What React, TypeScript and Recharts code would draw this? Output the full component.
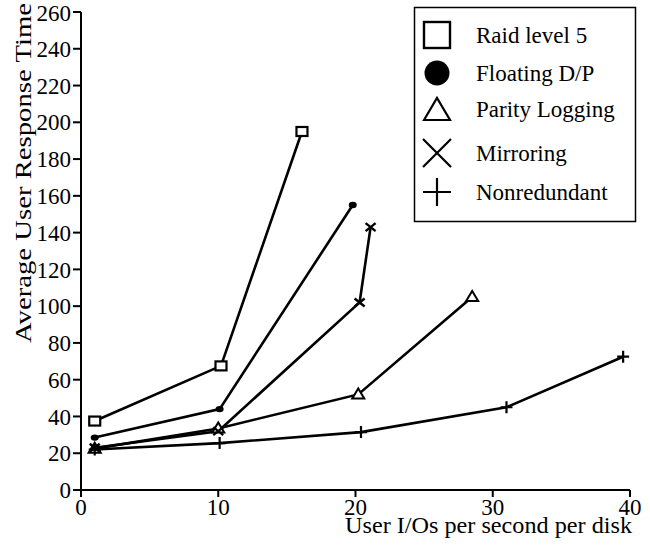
import React from 'react';
import { LineChart, Line, XAxis, YAxis } from 'recharts';

const raid5X = [1, 10.2, 16.1];
const raid5Y = [37.5, 67.5, 195];
const floatX = [1, 10.1, 19.8];
const floatY = [28.5, 44, 155];
const parityX = [1, 10, 20.2, 28.5];
const parityY = [22.5, 33.5, 52, 105];
const mirrorX = [1, 10, 20.3, 21.1];
const mirrorY = [23, 32, 102, 143];
const nonredX = [1, 10.1, 20.4, 31, 39.5];
const nonredY = [22, 25.5, 31.5, 45, 72.5];

const xTicks = [0, 10, 20, 30, 40];
const yTicks = [0, 20, 40, 60, 80, 100, 120, 140, 160, 180, 200, 220, 240, 260];

const seriesNames = ['Raid level 5', 'Floating D/P', 'Parity Logging', 'Mirroring', 'Nonredundant'];
const xLabel = 'User I/Os per second per disk';
const yLabel = 'Average User Response Time';

const zip = (xs: number[], ys: number[]) => xs.map((x, i) => ({ x, y: ys[i] }));

const FONT = '"Liberation Serif", "Times New Roman", serif';

type Kind = 'square' | 'circle' | 'triangle' | 'cross' | 'plus';

const marker = (kind: Kind) => (props: any) => {
  const { cx, cy, index } = props;
  const k = `m-${kind}-${index}`;
  if (cx == null || cy == null) return <g key={k} />;
  switch (kind) {
    case 'square':
      return <rect key={k} x={cx - 5.5} y={cy - 4.5} width={11} height={9} fill="#fff" stroke="#000" strokeWidth={2.2} />;
    case 'circle':
      return <ellipse key={k} cx={cx} cy={cy} rx={4} ry={3.2} fill="#000" />;
    case 'triangle':
      return <path key={k} d={`M${cx - 6},${cy + 4} L${cx},${cy - 6} L${cx + 6},${cy + 4} Z`} fill="#fff" stroke="#000" strokeWidth={2} />;
    case 'cross':
      return <path key={k} d={`M${cx - 5},${cy - 4} L${cx + 5},${cy + 4} M${cx - 5},${cy + 4} L${cx + 5},${cy - 4}`} stroke="#000" strokeWidth={2.4} fill="none" />;
    default:
      return <path key={k} d={`M${cx - 6},${cy} L${cx + 6},${cy} M${cx},${cy - 6} L${cx},${cy + 6}`} stroke="#000" strokeWidth={2.2} fill="none" />;
  }
};

const legendIcon = (kind: Kind, cy: number) => {
  const cx = 437;
  switch (kind) {
    case 'square':
      return <rect x={cx - 13} y={cy - 13} width={26} height={26} fill="none" stroke="#000" strokeWidth={2.4} />;
    case 'circle':
      return <circle cx={cx} cy={cy} r={12.5} fill="#000" />;
    case 'triangle':
      return <path d={`M${cx - 13},${cy + 11} L${cx},${cy - 11} L${cx + 13},${cy + 11} Z`} fill="none" stroke="#000" strokeWidth={2.2} />;
    case 'cross':
      return <path d={`M${cx - 14},${cy - 14} L${cx + 14},${cy + 14} M${cx - 14},${cy + 14} L${cx + 14},${cy - 14}`} stroke="#000" strokeWidth={2.2} fill="none" />;
    default:
      return <path d={`M${cx - 14},${cy} L${cx + 14},${cy} M${cx},${cy - 14} L${cx},${cy + 14}`} stroke="#000" strokeWidth={2.2} fill="none" />;
  }
};

const kinds: Kind[] = ['square', 'circle', 'triangle', 'cross', 'plus'];
const legendRows = [35, 73, 109, 153, 192];

const LegendBox = () => (
  <svg width={650} height={546} style={{ position: 'absolute', left: 0, top: 0, pointerEvents: 'none' }}>
    <rect x={414.5} y={7.5} width={221} height={214} fill="#fff" stroke="#000" strokeWidth={1.5} />
    {seriesNames.map((n, i) => (
      <g key={n}>
        {legendIcon(kinds[i], legendRows[i])}
        <text x={476} y={legendRows[i] + 8} fontFamily={FONT} fontSize={23} fill="#000">{n}</text>
      </g>
    ))}
  </svg>
);

const tickStyle = { fontFamily: FONT, fontSize: 23, fill: '#000' };

const XLabel = () => (
  <text x={632} y={533} textAnchor="end" fontFamily={FONT} fontSize={23} fill="#000" textLength={287} lengthAdjust="spacingAndGlyphs">
    {xLabel}
  </text>
);

const YLabel = () => (
  <text
    x={23}
    y={173}
    transform="rotate(-90, 23, 173)"
    textAnchor="middle"
    dominantBaseline="central"
    fontFamily={FONT}
    fontSize={23}
    fill="#000"
    textLength={340}
    lengthAdjust="spacingAndGlyphs"
  >
    {yLabel}
  </text>
);

export default function App() {
  const series = [
    zip(raid5X, raid5Y),
    zip(floatX, floatY),
    zip(parityX, parityY),
    zip(mirrorX, mirrorY),
    zip(nonredX, nonredY),
  ];
  return (
    <div style={{ position: 'absolute', left: 0, top: 0, width: 650, height: 546, background: '#fff', fontFamily: FONT }}>
      <style>{`svg text, svg tspan { font-family: "Liberation Serif", "Times New Roman", serif !important; }`}</style>
      <LineChart width={650} height={546} margin={{ top: 12, right: 20, left: 0, bottom: 0 }}>
        <XAxis
          type="number"
          dataKey="x"
          domain={[0, 40]}
          ticks={xTicks}
          allowDataOverflow
          height={56}
          tickSize={7}
          tickMargin={2}
          tick={tickStyle}
          stroke="#000"
          strokeWidth={2}
          label={<XLabel />}
        />
        <YAxis
          type="number"
          dataKey="y"
          domain={[0, 260]}
          ticks={yTicks}
          width={81}
          tickSize={8}
          tickMargin={2}
          tick={tickStyle}
          stroke="#000"
          strokeWidth={2}
          label={<YLabel />}
        />
        {series.map((d, i) => (
          <Line
            key={seriesNames[i]}
            data={d}
            dataKey="y"
            name={seriesNames[i]}
            stroke="#000"
            strokeWidth={2.6}
            dot={marker(kinds[i])}
            activeDot={false}
            isAnimationActive={false}
          />
        ))}
      </LineChart>
      <LegendBox />
    </div>
  );
}
